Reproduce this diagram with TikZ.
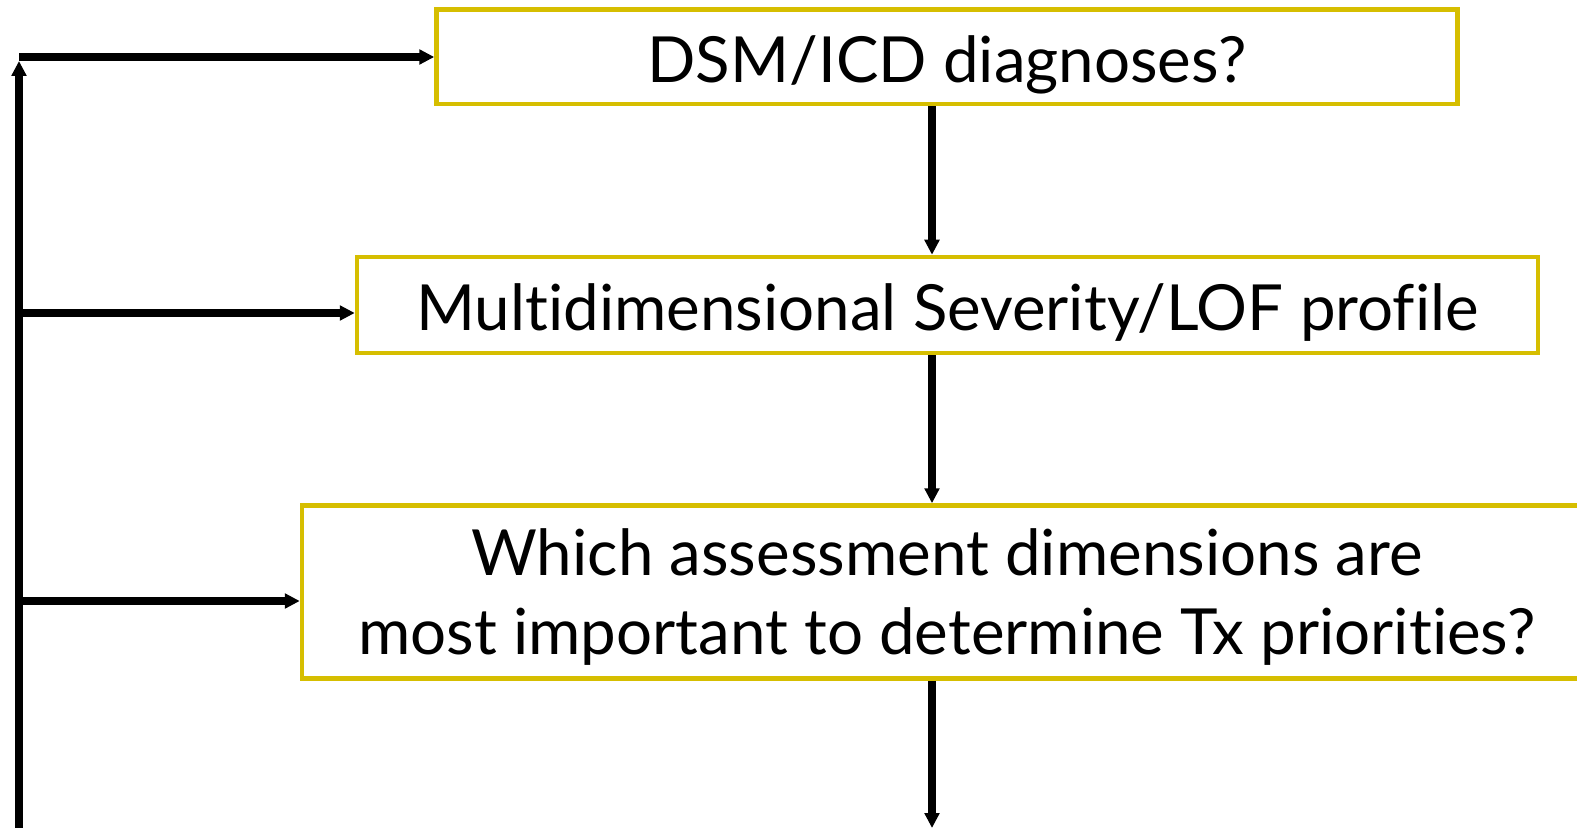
\documentclass[tikz,border=0pt]{standalone}
\usepackage{fontspec}
\setmainfont{Lato}[Ligatures=NoCommon]
\usetikzlibrary{arrows.meta}
\definecolor{boxgold}{RGB}{214,190,0}
% box text sits a little below the box centre
\newcommand\lowered[1]{\raisebox{-0.75mm}[\height][\depth]{#1}}
\begin{document}
\begin{tikzpicture}[x=0.1mm,y=-0.1mm,
  qbox/.style={draw=boxgold,line width=0.45mm,fill=white,inner sep=0pt,
    align=center,font=\fontsize{18.1}{22.3}\selectfont},
  flow/.style={line width=0.75mm,-{Triangle[length=1.5mm,width=1.45mm]}}]
\useasboundingbox (0,0) rectangle (1577,828);
% question boxes
\node[qbox,minimum width=102.1mm,minimum height=9.45mm] (b1) at (947,57)
  {\lowered{DSM/ICD diagnoses?}};
\node[qbox,minimum width=118.1mm,minimum height=9.6mm] (b2) at (947.5,305)
  {\lowered{Multidimensional Severity/LOF profile}};
\node[qbox,minimum width=129mm,minimum height=17.3mm] (b3) at (947,592)
  {\lowered{\begin{tabular}{@{}c@{}}Which assessment dimensions are\\
   most important to determine Tx priorities?\end{tabular}}};
% feedback spine on the left
\coordinate (s0) at (19,830);
\coordinate (st) at (19,61);
\coordinate (s1) at (19,57);
\coordinate (s2) at (19,313);
\coordinate (s3) at (19,601);
\coordinate (ax) at (932,0);
\coordinate (bot) at (932,828);
\draw[flow] (s0) -- (st);
\draw[flow] (s1) -- (s1 -| b1.west);
\draw[flow] (s2) -- (s2 -| b2.west);
\draw[flow] (s3) -- (s3 -| b3.west);
% main downward flow
\draw[flow] (b1.south -| ax) -- (b2.north -| ax);
\draw[flow] (b2.south -| ax) -- (b3.north -| ax);
\draw[flow] (b3.south -| ax) -- (bot);
\end{tikzpicture}
\end{document}
